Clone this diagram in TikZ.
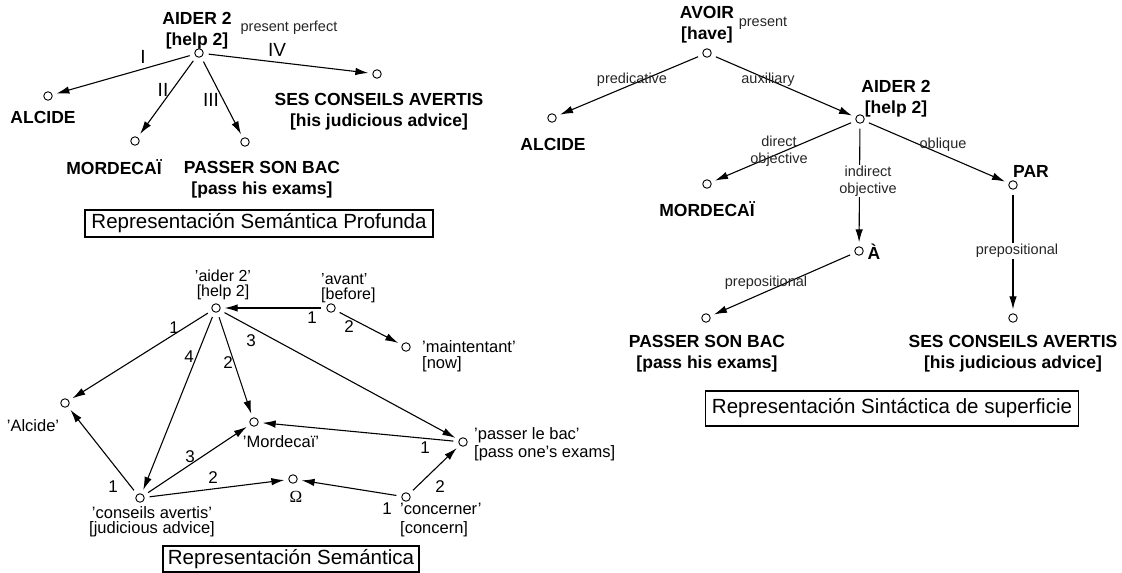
\documentclass[tikz,border=0pt]{standalone}
\usepackage{fontspec}
\setmainfont{Liberation Sans}
\newfontfamily\omfont{Liberation Serif}
\usetikzlibrary{arrows.meta}
\begin{document}
\begin{tikzpicture}[x=1pt,y=-1pt,
  dot/.style={circle,draw,minimum size=8.5pt,inner sep=0pt,line width=0.9pt},
  bigt/.style={font=\fontsize{17.5}{21}\selectfont\bfseries,align=center,inner sep=0pt},
  relt/.style={font=\fontsize{14.5}{17}\selectfont,align=center,inner sep=1pt,text=black!85},
  semt/.style={font=\fontsize{16.5}{18.5}\selectfont,inner sep=0pt},
  semtight/.style={font=\fontsize{16}{14.5}\selectfont,inner sep=0pt},
  numt/.style={font=\fontsize{17}{18}\selectfont,inner sep=0pt},
  romt/.style={font=\fontsize{19}{20}\selectfont,inner sep=0pt},
  titlebox/.style={draw,line width=1.5pt,inner sep=0pt,font=\fontsize{20.5}{22}\selectfont},
  arr/.style={-{Latex[length=13pt,width=7.5pt]},line width=1.1pt,shorten <=5pt,shorten >=4pt}]
\useasboundingbox (0,0) rectangle (1122,573);

% ---------- Representacion Semantica Profunda ----------
\node[dot] (tA) at (199,53) {};
\node[dot] (tAl) at (48,96) {};
\node[dot] (tMo) at (135,141) {};
\node[dot] (tPa) at (245,142) {};
\node[dot] (tSe) at (377,74) {};
\node[bigt] (tAt) at (197,31) {AIDER 2\\{[}help 2{]}};
\node[relt] (tpp) at (289,28) {present perfect};
\node[bigt,anchor=base] (tAlt) at (43,123) {ALCIDE};
\node[bigt,anchor=base] (tMot) at (114,174) {MORDECAÏ};
\node[bigt] (tPat) at (262,180) {PASSER SON BAC\\{[}pass his exams{]}};
\node[bigt] (tSet) at (379,112) {SES CONSEILS AVERTIS\\{[}his judicious advice{]}};
\draw[arr] (tA) -- (tAl);
\draw[arr] (tA) -- (tMo);
\draw[arr] (tA) -- (tPa);
\draw[arr] (tA) -- (tSe);
\node[romt] (rI) at (143,57) {I};
\node[romt] (rII) at (163,90) {II};
\node[romt] (rIII) at (211,100) {III};
\node[romt] (rIV) at (277,50) {IV};
\node[titlebox,minimum width=348pt,minimum height=27pt] (tbox) at (259,223.5) {Representación Semántica Profunda};

% ---------- Representacion Sintactica de superficie ----------
\node[dot] (rAv) at (707,53) {};
\node[dot] (rAl) at (552,118) {};
\node[dot] (rAi) at (860,119) {};
\node[dot] (rMo) at (707,184) {};
\node[dot] (rA) at (859,251) {};
\node[dot] (rPar) at (1013,185) {};
\node[dot] (rPa) at (706,318) {};
\node[dot] (rSe) at (1013,318) {};
\node[bigt] (rAvt) at (707,25) {AVOIR\\{[}have{]}};
\node[relt] (rpres) at (763,23) {present};
\node[bigt,anchor=base] (rAlt) at (553,150) {ALCIDE};
\node[bigt,anchor=base] (rMot) at (707,216) {MORDECAÏ};
\node[bigt] (rAit) at (896,99) {AIDER 2\\{[}help 2{]}};
\node[bigt,anchor=base] (rPart) at (1031,177) {PAR};
\node[bigt,anchor=base] (rAt) at (874,259) {À};
\node[bigt] (rPat) at (707,354) {PASSER SON BAC\\{[}pass his exams{]}};
\node[bigt] (rSet) at (1013,354) {SES CONSEILS AVERTIS\\{[}his judicious advice{]}};
\draw[arr] (rAv) -- (rAl);
\draw[arr] (rAv) -- (rAi);
\draw[arr] (rAi) -- (rMo);
\draw[arr] (rAi) -- (rA);
\draw[arr] (rAi) -- (rPar);
\draw[arr] (rA) -- (rPa);
\draw[arr] (rPar) -- (rSe);
\node[relt] (lpred) at (632,80) {predicative};
\node[relt] (laux) at (768,80) {auxiliary};
\node[relt] (ldir) at (779,151) {direct\\objective};
\node[relt,fill=white] (lind) at (868,181) {indirect\\objective};
\node[relt] (lobl) at (943,145) {oblique};
\node[relt] (lprep1) at (766,283) {prepositional};
\node[relt,fill=white] (lprep2) at (1017,251) {prepositional};
\node[titlebox,minimum width=373pt,minimum height=35pt] (rbox) at (892,408.5) {Representación Sintáctica de superficie};

% ---------- Representacion Semantica ----------
\node[dot] (bAi) at (216,308) {};
\node[dot] (bAv) at (331,308) {};
\node[dot] (bMa) at (406,347) {};
\node[dot] (bAl) at (65,403) {};
\node[dot] (bMo) at (254,422) {};
\node[dot] (bPa) at (463,442) {};
\node[dot] (bOm) at (293,479) {};
\node[dot] (bCo) at (140,498) {};
\node[dot] (bCn) at (406,497) {};
\node[semtight,align=center] (bAit) at (223,285) {'aider 2'\\{[}help 2{]}};
\node[semtight,align=left,anchor=west] (bAvt) at (321,288) {'avant'\\{[}before{]}};
\node[semt,align=left,anchor=west,font=\fontsize{16.5}{16}\selectfont] (bMat) at (422,356) {'maintentant'\\{[}now{]}};
\node[semt,anchor=base] (bAlt) at (33,431) {'Alcide'};
\node[semt,anchor=base] (bMot) at (281,447) {'Mordecaï'};
\node[semt,anchor=base,font=\omfont\fontsize{17}{18}\selectfont] (bOmt) at (296,502) {Ω};
\node[semt,align=left,anchor=west] (bPat) at (474,444) {'passer le bac'\\{[}pass one's exams{]}};
\node[semt,align=center,font=\fontsize{16.5}{15.5}\selectfont] (bCot) at (152,521.5) {'conseils avertis'\\{[}judicious advice{]}};
\node[semt,align=left,anchor=west] (bCnt) at (400,520) {'concerner'\\{[}concern{]}};
\draw[arr] (bAi) -- (bAl);
\draw[arr] (bAi) -- (bCo);
\draw[arr] (bAi) -- (bMo);
\draw[arr] (bAi) -- (bPa);
\draw[arr] (bAv) -- (bAi);
\draw[arr] (bAv) -- (bMa);
\draw[arr] (bPa) -- (bMo);
\draw[arr] (bCo) -- (bAl);
\draw[arr] (bCo) -- (bMo);
\draw[arr] (bCo) -- (bOm);
\draw[arr] (bCn) -- (bOm);
\draw[arr] (bCn) -- (bPa);
\node[numt] (n1) at (174,328) {1};
\node[numt] (n2) at (189,357) {4};
\node[numt] (n3) at (228,363) {2};
\node[numt] (n4) at (251,341) {3};
\node[numt] (n5) at (312,318) {1};
\node[numt] (n6) at (349,327) {2};
\node[numt] (n7) at (425,448) {1};
\node[numt] (n8) at (113,487) {1};
\node[numt] (n9) at (190,457) {3};
\node[numt] (n10) at (213,478) {2};
\node[numt] (n11) at (387,509) {1};
\node[numt] (n12) at (440,487) {2};
\node[titlebox,minimum width=256pt,minimum height=26pt] (bbox) at (291,559) {Representación Semántica};
\end{tikzpicture}
\end{document}
